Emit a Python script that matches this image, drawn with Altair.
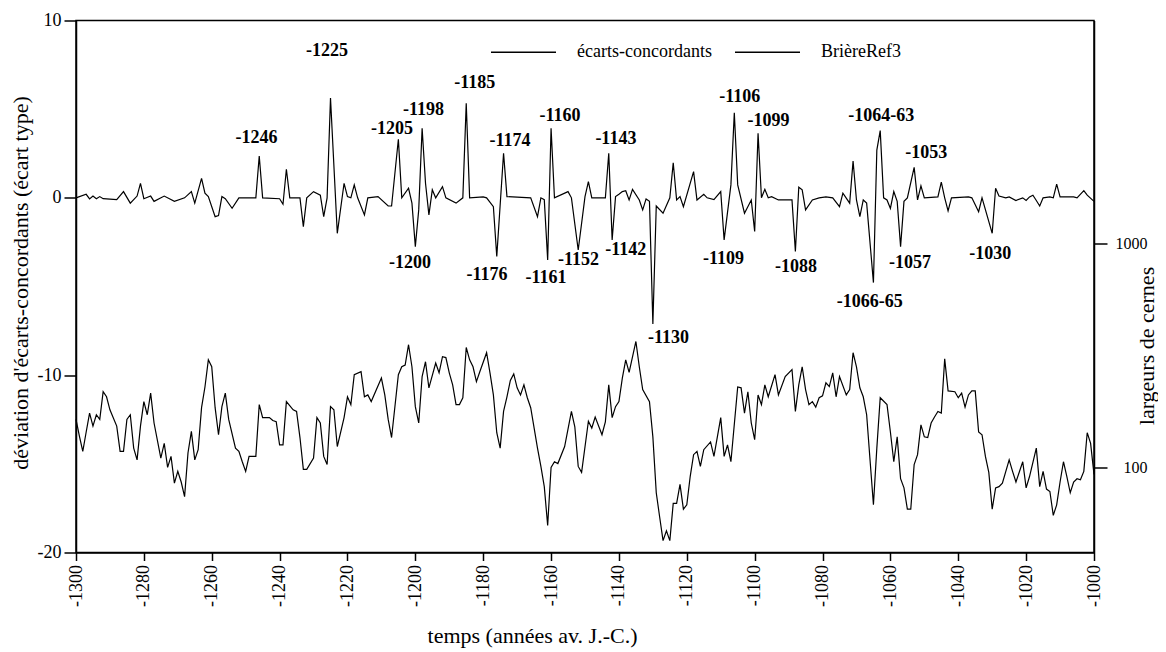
import altair as alt
import pandas as pd

# ---------------- data ----------------
dev_years = [-1300, -1297, -1296, -1295, -1294, -1293, -1292, -1288, -1286, -1284, -1282, -1281, -1280,
             -1278, -1277, -1274, -1271, -1268, -1266, -1265, -1263, -1262, -1261, -1259, -1258, -1257,
             -1256, -1254, -1252, -1247, -1246, -1245, -1240, -1239, -1238, -1237, -1234, -1233, -1232,
             -1230, -1228, -1227, -1226, -1225, -1223, -1221, -1220, -1219, -1218, -1217, -1215, -1214,
             -1211, -1208, -1207, -1205, -1204, -1202, -1201, -1200, -1199, -1198, -1197, -1196, -1195,
             -1194, -1192, -1191, -1188, -1186, -1185, -1184, -1180, -1179, -1177, -1176, -1174, -1173,
             -1166, -1164, -1163, -1162, -1161, -1160, -1159, -1155, -1154, -1152, -1150, -1149, -1148,
             -1144, -1143, -1142, -1141, -1140, -1139, -1138, -1137, -1136, -1134, -1133, -1132, -1131,
             -1130, -1129, -1127, -1125, -1124, -1123, -1122, -1121, -1118, -1117, -1115, -1114, -1112,
             -1110, -1109, -1107, -1106, -1105, -1103, -1101, -1100, -1099, -1098, -1097, -1096, -1095,
             -1093, -1089, -1088, -1087, -1086, -1085, -1083, -1081, -1079, -1077, -1075, -1074, -1072,
             -1071, -1070, -1069, -1068, -1067, -1065, -1064, -1063, -1062, -1061, -1060, -1059, -1058,
             -1057, -1056, -1055, -1053, -1052, -1051, -1050, -1046, -1045, -1044, -1043, -1042, -1037,
             -1036, -1034, -1033, -1030, -1029, -1028, -1026, -1025, -1023, -1021, -1020, -1019, -1018,
             -1017, -1016, -1015, -1013, -1012, -1011, -1010, -1006, -1005, -1003, -1002, -1000]
dev_values = [0.0, 0.2, -0.06, 0.1, -0.05, 0.07, -0.05, -0.1, 0.35, -0.3, 0.1, 0.82, -0.05,
              0.1, -0.2, 0.1, -0.2, 0.0, 0.35, -0.3, 1.1, 0.26, 0.07, -1.06, -1.0, 0.07,
              -0.05, -0.59, 0.0, 0.0, 2.36, 0.0, -0.05, -0.36, 1.61, 0.0, 0.0, -1.62, 0.0,
              0.35, 0.15, -1.06, 0.0, 5.63, -2.0, 0.82, 0.07, 0.0, 0.73, 0.0, -0.96, 0.0,
              0.07, -0.46, -0.46, 3.30, 0.0, 0.54, -0.3, -2.75, -0.68, 3.92, 0.82, -0.96, 0.45,
              0.0, 0.63, 0.0, -0.3, 0.0, 5.33, 0.0, 0.05, 0.0, -0.5, -3.31, 2.51, 0.07,
              0.0, -1.06, 0.0, -0.1, -3.5, 3.92, 0.0, 0.35, 0.0, -2.94, 0.07, 0.91, 0.0,
              0.0, 2.51, -2.37, 0.07, 0.2, 0.35, 0.4, -0.12, 0.48, -0.12, -0.68, -0.06, -0.2,
              -7.11, -0.46, -0.87, 0.0, 1.98, -0.12, 0.07, -0.5, 1.48, -0.12, 0.2, 0.0, -0.1,
              0.35, -2.37, 0.73, 4.8, 0.73, -0.87, -0.12, -1.9, 3.64, 0.0, 0.48, 0.0, 0.07,
              -0.12, -0.12, -3.03, 0.6, 0.45, -0.68, -0.12, 0.0, 0.05, 0.0, -0.5, 0.26, -0.3,
              2.08, -0.12, -1.06, -0.12, -0.3, -4.78, 2.69, 3.79, 0.0, -0.12, -0.6, 0.35, -0.2,
              -2.75, -0.2, 0.0, 1.72, -0.12, 0.67, 0.0, 0.05, 0.88, 0.0, -0.74, 0.0, 0.05,
              0.0, -0.78, 0.0, -2.0, 0.54, 0.1, 0.0, 0.05, -0.15, 0.0, -0.15, 0.05, 0.15,
              -0.15, -0.46, 0.0, 0.05, 0.0, 0.77, 0.05, 0.05, 0.0, 0.41, 0.15, -0.2]

rw_years = [-1300, -1299, -1298, -1297, -1296, -1295, -1294, -1293, -1292, -1291, -1290, -1288, -1287,
            -1286, -1285, -1284, -1283, -1282, -1281, -1280, -1279, -1278, -1277, -1275, -1274, -1273,
            -1272, -1271, -1270, -1269, -1268, -1267, -1266, -1265, -1264, -1263, -1262, -1261, -1260,
            -1259, -1258, -1257, -1256, -1255, -1253, -1252, -1251, -1250, -1249, -1247, -1246, -1245,
            -1243, -1242, -1241, -1240, -1239, -1238, -1236, -1235, -1234, -1233, -1232, -1230, -1229,
            -1228, -1227, -1226, -1225, -1224, -1223, -1221, -1220, -1219, -1218, -1216, -1215, -1214,
            -1213, -1210, -1209, -1208, -1207, -1205, -1204, -1203, -1202, -1201, -1200, -1199, -1198,
            -1197, -1196, -1194, -1193, -1192, -1191, -1190, -1189, -1188, -1187, -1186, -1185, -1184,
            -1183, -1182, -1181, -1179, -1178, -1177, -1176, -1175, -1174, -1173, -1172, -1171, -1170,
            -1169, -1168, -1167, -1166, -1164, -1163, -1162, -1161, -1160, -1159, -1158, -1156, -1154,
            -1153, -1152, -1151, -1149, -1148, -1147, -1145, -1144, -1143, -1142, -1141, -1140, -1139,
            -1138, -1137, -1135, -1134, -1133, -1131, -1130, -1129, -1128, -1127, -1126, -1125, -1124,
            -1123, -1122, -1121, -1120, -1119, -1118, -1117, -1116, -1115, -1113, -1112, -1110, -1109,
            -1108, -1107, -1105, -1104, -1103, -1102, -1101, -1100, -1099, -1098, -1097, -1096, -1094,
            -1093, -1091, -1089, -1088, -1087, -1086, -1085, -1084, -1083, -1082, -1081, -1080, -1079,
            -1078, -1077, -1076, -1075, -1073, -1072, -1071, -1070, -1069, -1068, -1067, -1066, -1065,
            -1064, -1063, -1061, -1060, -1059, -1058, -1057, -1056, -1055, -1054, -1053, -1052, -1051,
            -1050, -1049, -1048, -1047, -1046, -1045, -1044, -1043, -1041, -1040, -1039, -1038, -1037,
            -1036, -1035, -1034, -1033, -1032, -1031, -1030, -1029, -1028, -1027, -1025, -1024, -1023,
            -1021, -1020, -1019, -1017, -1016, -1015, -1014, -1013, -1012, -1011, -1010, -1009, -1008,
            -1007, -1006, -1005, -1004, -1003, -1002, -1001, -1000]
rw_values = [164, 138, 118, 144, 175, 153, 172, 164, 218, 207, 181, 153, 118,
             118, 164, 172, 122, 108, 153, 197, 172, 215, 158, 110, 128, 100,
             112, 85, 96, 86, 74, 116, 145, 108, 120, 185, 229, 303, 282,
             185, 140, 187, 215, 164, 122, 118, 106, 96, 112, 112, 191, 167,
             167, 162, 160, 126, 126, 197, 181, 178, 136, 98, 98, 110, 167,
             158, 112, 103, 187, 181, 124, 167, 207, 191, 260, 268, 207, 211,
             197, 251, 211, 164, 136, 260, 282, 287, 354, 282, 187, 158, 255,
             297, 227, 293, 265, 313, 310, 265, 234, 191, 191, 205, 344, 303,
             282, 242, 268, 326, 265, 211, 143, 122, 178, 207, 245, 262, 227,
             211, 234, 205, 185, 122, 101, 82, 55, 100, 106, 104, 124, 178,
             152, 101, 95, 161, 150, 168, 140, 160, 234, 167, 187, 197, 251,
             303, 266, 366, 282, 223, 197, 137, 77, 60, 47, 52, 47, 69,
             69, 84, 65, 68, 91, 114, 118, 101, 120, 130, 112, 167, 112,
             126, 106, 229, 227, 175, 218, 158, 133, 211, 191, 234, 207, 260,
             211, 255, 274, 178, 234, 282, 223, 191, 197, 186, 205, 209, 239,
             230, 265, 207, 255, 211, 223, 326, 282, 227, 207, 172, 108, 68,
             122, 205, 191, 144, 106, 137, 89, 81, 65, 65, 103, 114, 155,
             137, 136, 158, 168, 178, 175, 306, 220, 218, 205, 215, 186, 211,
             220, 220, 144, 140, 112, 95, 65, 81, 82, 85, 108, 96, 86,
             106, 81, 91, 122, 82, 96, 80, 78, 61, 68, 86, 106, 91,
             77, 86, 89, 88, 96, 143, 128, 93]

lab_text = ["-1246", "-1225", "-1205", "-1198", "-1185", "-1200", "-1174", "-1176", "-1160", "-1161",
            "-1152", "-1143", "-1142", "-1130", "-1106", "-1109", "-1099", "-1088", "-1064-63",
            "-1066-65", "-1053", "-1057", "-1030"]
lab_year = [-1246.8, -1226.0, -1206.9, -1197.6, -1182.5, -1201.6, -1172.1, -1178.9, -1157.4, -1161.5,
            -1151.9, -1140.9, -1138.0, -1125.4, -1104.4, -1109.2, -1095.9, -1087.8, -1062.7,
            -1066.1, -1049.4, -1054.2, -1030.6]
lab_value = [3.38, 8.3, 3.88, 4.95, 6.5, -3.70, 3.18, -4.35, 4.59, -4.54,
             -3.5, 3.32, -2.94, -7.93, 5.69, -3.47, 4.31, -3.92, 4.59,
             -5.9, 2.53, -3.67, -3.19]

SERIES = ["écarts-concordants", "BrièreRef3"]
x_ticks = list(range(-1300, -999, 10))

dev_df = pd.DataFrame({"annee": dev_years, "dev": dev_values, "serie": SERIES[0]})
rw_df = pd.DataFrame({"annee": rw_years, "largeur": rw_values, "serie": SERIES[1]})
lab_df = pd.DataFrame({"annee": lab_year, "dev": lab_value, "txt": lab_text})

FONT = "Liberation Serif"

x_enc = alt.X(
    "annee:Q",
    scale=alt.Scale(domain=[-1300, -1000], nice=False, zero=False),
    axis=alt.Axis(values=x_ticks, labelAngle=-90, labelExpr="datum.value + ''",
                  title="temps (années av. J.-C.)", tickSize=8, labelPadding=4,
                  titleFontSize=22, titleX=456, titleY=83, titleBaseline="middle",
                  titleAlign="center"),
)

color_enc = alt.Color(
    "serie:N",
    scale=alt.Scale(domain=SERIES, range=["black", "black"]),
    legend=alt.Legend(orient="none", legendX=414, legendY=-2, direction="horizontal", title=None,
                      symbolType="stroke", symbolSize=4225, symbolStrokeWidth=1.4,
                      labelFontSize=18, labelFont=FONT, labelColor="black", labelOffset=20,
                      columnPadding=20),
)

dev_line = alt.Chart(dev_df).mark_line(strokeWidth=1.2).encode(
    x=x_enc,
    y=alt.Y("dev:Q", scale=alt.Scale(domain=[-20, 10], nice=False, zero=False),
            axis=alt.Axis(values=[-20, -10, 0, 10], labelExpr="datum.value + ''",
                          title="déviation d'écarts-concordants (écart type)",
                          tickSize=12, labelPadding=3, titleX=-56, titleY=262,
                          titleFontSize=22,
                          titleAngle=270, titleBaseline="middle", titleAlign="center")),
    color=color_enc,
)

labels = alt.Chart(lab_df).mark_text(font=FONT, fontWeight="bold", fontSize=18,
                                     align="center", baseline="middle", color="black").encode(
    x=alt.X("annee:Q"),
    y=alt.Y("dev:Q"),
    text="txt:N",
)

rw_line = alt.Chart(rw_df).mark_line(strokeWidth=1.2).encode(
    x=alt.X("annee:Q"),
    y=alt.Y("largeur:Q", scale=alt.Scale(type="log", domain=[41.6, 10000], nice=False),
            axis=alt.Axis(orient="right", values=[100, 1000], format="d",
                          title="largeurs de cernes", tickSize=13, labelPadding=40,
                          labelAlign="right", labelFontSize=16,
                          titleFontSize=22, titleAngle=270, titleX=52, titleY=325,
                          titleBaseline="middle", titleAlign="center")),
    color=alt.Color("serie:N"),
)

chart = alt.layer(alt.layer(dev_line, labels), rw_line).resolve_scale(y="independent").properties(
    width=1018, height=532,
    autosize=alt.AutoSizeParams(type="none"),
    padding={"left": 68, "top": 12.5, "right": 64, "bottom": 95},
).configure_view(stroke="black", strokeWidth=1.5).configure_axis(
    grid=False, domainColor="black", domainWidth=1.5, tickColor="black", tickWidth=1.5,
    labelFont=FONT, titleFont=FONT, labelFontSize=18, titleFontSize=19,
    labelColor="black", titleColor="black", titleFontWeight="normal",
)

chart.save("out.html", embed_options={"renderer": "svg", "actions": False})
